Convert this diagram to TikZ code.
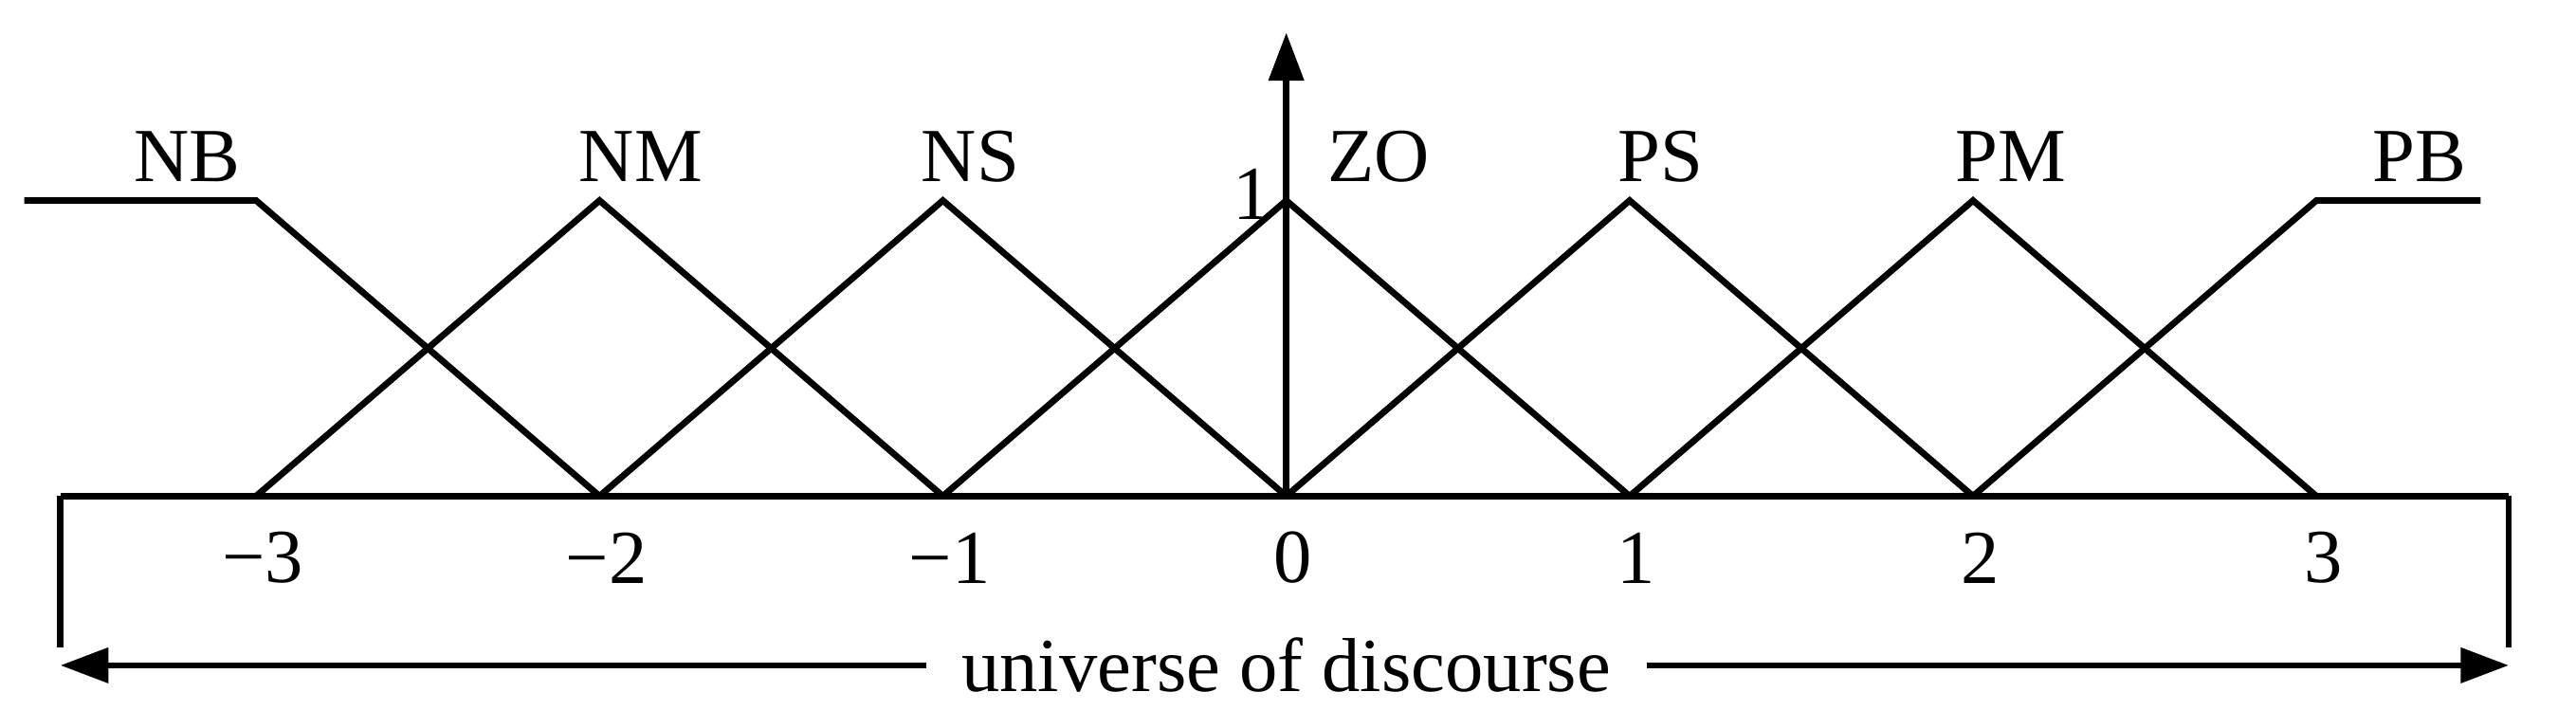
\documentclass[tikz,border=0pt]{standalone}
\usepackage{fontspec}
\setmainfont{Liberation Serif}
\usetikzlibrary{arrows.meta}
\begin{document}
\begin{tikzpicture}[x=3cm,y=3cm,line width=1.6pt,
  every node/.style={font=\fontsize{19}{21}\selectfont},
  tip/.style={-{Triangle[length=0.42cm,width=0.3cm]}}]
\useasboundingbox (-3.746,-0.622) rectangle (3.756,1.445);
% base and peak points
\foreach \i/\t in {-3/−3,-2/−2,-1/−1,0/0,1/1,2/2,3/3} {
  \coordinate (b\i) at (\i,0);
  \coordinate (t\i) at (\i,0.861);
  \node (n\i) at (\i+0.02,-0.18) {\t};
}
\coordinate (tl) at (-3.675,0.861);
\coordinate (tr) at (3.478,0.861);
% membership functions
\draw (tl) -- (t-3) -- (b-2);
\draw (b-3) -- (t-2) -- (b-1);
\draw (b-2) -- (t-1) -- (b0);
\draw (b-1) -- (t0) -- (b1);
\draw (b0) -- (t1) -- (b2);
\draw (b1) -- (t2) -- (b3);
\draw (b2) -- (t3) -- (tr);
% axes
\coordinate (top) at (0,1.35);
\draw[tip] (b0) -- (top);
\coordinate (rl) at (-3.57,0);
\coordinate (rr) at (3.56,0);
\coordinate (dl) at (-3.57,-0.493);
\coordinate (dr) at (3.56,-0.493);
\draw (rl) -- (rr);
\draw (rl) -- (-3.57,-0.44);
\draw (rr) -- (3.56,-0.44);
\node[fill=white,inner xsep=8pt] (uod) at (0,-0.493) {universe of discourse};
\draw[tip] (uod.west) -- (dl);
\draw[tip] (uod.east) -- (dr);
% labels
\node at (-0.1,0.88) {1};
\node at (-3.2,0.99) {NB};
\node at (-1.88,0.99) {NM};
\node at (-0.92,0.99) {NS};
\node at (0.27,0.99) {ZO};
\node at (1.09,0.99) {PS};
\node at (2.11,0.99) {PM};
\node at (3.3,0.99) {PB};
\end{tikzpicture}
\end{document}
